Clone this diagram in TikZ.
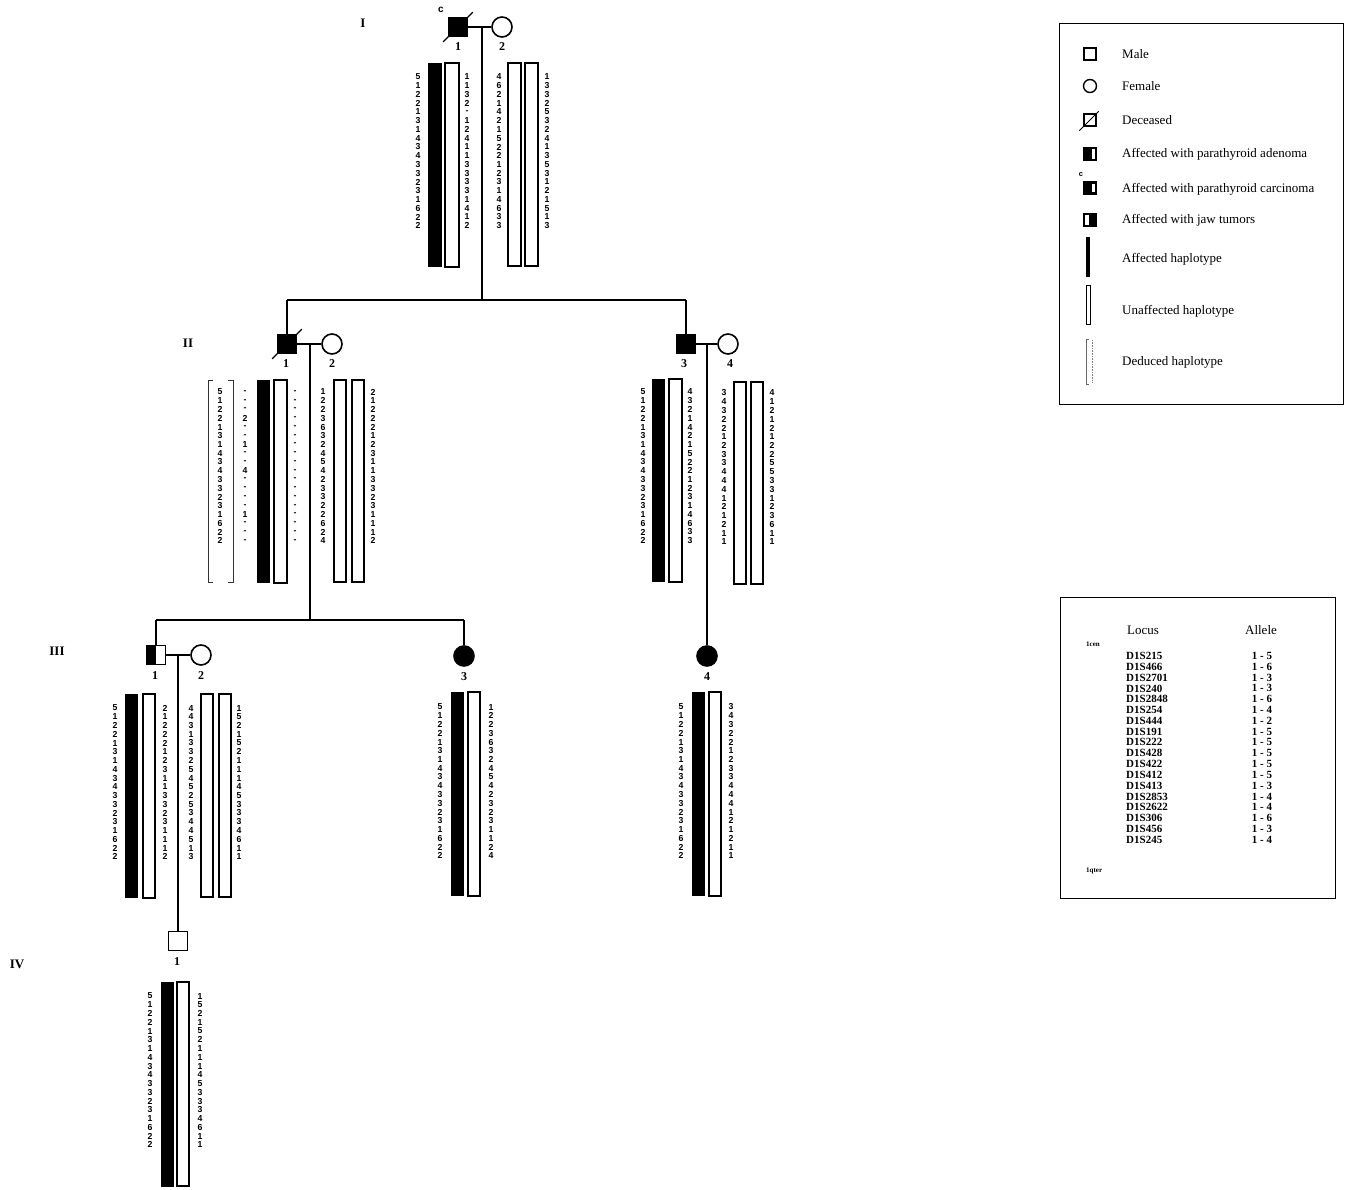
\documentclass[tikz,border=0pt]{standalone}
\usepackage{fontspec}
\setmainfont{Liberation Serif}
\newfontfamily\dgfont{Liberation Sans}
\usetikzlibrary{calc}
\tikzset{
  dg/.style={font=\dgfont\bfseries\fontsize{8.7}{9}\selectfont, inner sep=0pt},
  male/.style={draw, rectangle, line width=1.6pt, minimum size=19pt, inner sep=0pt},
  female/.style={draw, circle, line width=1.6pt, minimum size=20pt, inner sep=0pt},
  lnk/.style={line width=1.8pt},
  plbl/.style={font=\bfseries\fontsize{12}{12}\selectfont, inner sep=0pt},
  gen/.style={font=\bfseries\fontsize{13}{13}\selectfont, inner sep=0pt},
  hapU/.style={draw, line width=1.8pt, fill=white},
  slash/.style={line width=1.3pt},
  legtxt/.style={font=\fontsize{13}{13}\selectfont, anchor=west, inner sep=0pt},
  lmale/.style={draw, rectangle, line width=1.4pt, minimum size=12pt, inner sep=0pt},
  locus/.style={font=\bfseries\fontsize{11}{11}\selectfont, inner sep=0pt},
}
\newcommand\alcol[4]{\foreach \d [count=\i] in {#4}{\node[dg] (#1-\i) at (#2,{#3+(\i-1)*8.75}) {\d};}}
\begin{document}
\begin{tikzpicture}[x=1pt,y=-1pt]
\useasboundingbox[fill=white] (0,0) rectangle (1352,1189);

% generation labels
\node[gen] (gI) at (363,23) {I};
\node[gen] (gII) at (188,343) {II};
\node[gen] (gIII) at (57,651) {III};
\node[gen] (gIV) at (17,964) {IV};

% ---------- Generation I ----------
\node[male, fill=black] (I1) at (458,27) {};
\node[female] (I2) at (502,27) {};
\draw[slash] ($(I1.south west)!-0.22!(I1.north east)$) -- ($(I1.north east)!-0.22!(I1.south west)$);
\node[font=\dgfont\bfseries\fontsize{10}{10}\selectfont, inner sep=0pt] (I1c) at (441,10) {c};
\node[plbl] (I1l) at (458,47) {1};
\node[plbl] (I2l) at (502,47) {2};
\draw[lnk] (I1) -- (I2);
\coordinate (mI) at (482,27);
\coordinate (sI) at (482,300);
\coordinate (sIa) at (287,300);
\coordinate (sIb) at (686,300);
\draw[lnk] (mI) -- (sI);

\fill (428,63) rectangle (442,267);
\draw[hapU] (445,63) rectangle (459,267);
\draw[hapU] (508,63) rectangle (521,266);
\draw[hapU] (525,63) rectangle (538,266);
\alcol{a1}{418}{77}{5,1,2,2,1,3,1,4,3,4,3,3,2,3,1,6,2,2}
\alcol{a2}{467}{77}{1,1,3,2,-,1,2,4,1,1,3,3,3,3,1,4,1,2}
\alcol{a3}{499}{77}{4,6,2,1,4,2,1,5,2,2,1,2,3,1,4,6,3,3}
\alcol{a4}{547}{77}{1,3,3,2,5,3,2,4,1,3,5,3,1,2,1,5,1,3}

% ---------- Generation II ----------
\node[male, fill=black] (II1) at (287,344) {};
\node[female] (II2) at (332,344) {};
\draw[slash] ($(II1.south west)!-0.22!(II1.north east)$) -- ($(II1.north east)!-0.22!(II1.south west)$);
\node[male, fill=black] (II3) at (686,344) {};
\node[female] (II4) at (728,344) {};
\node[plbl] (II1l) at (286,364) {1};
\node[plbl] (II2l) at (332,364) {2};
\node[plbl] (II3l) at (684,364) {3};
\node[plbl] (II4l) at (730,364) {4};
\draw[lnk] (sIa) -- (sIb);
\draw[lnk] (sIa) -- (II1);
\draw[lnk] (sIb) -- (II3);
\draw[lnk] (II1) -- (II2);
\draw[lnk] (II3) -- (II4);
\coordinate (mII) at (310,344);
\coordinate (sII) at (310,620);
\coordinate (sIIa) at (156,620);
\coordinate (sIIb) at (464,620);
\coordinate (mIIb) at (707,344);
\draw[lnk] (mII) -- (sII);

% II-1 haplotypes
\draw[line width=1pt, black!80] (213,380) -- (208,380) -- (208,582) -- (213,582);
\draw[line width=1pt, black!80] (228,380) -- (233,380) -- (233,582) -- (228,582);
\alcol{b1}{220}{392}{5,1,2,2,1,3,1,4,3,4,3,3,2,3,1,6,2,2}
\alcol{b2}{245}{392}{-,-,-,2,-,-,1,-,-,4,-,-,-,-,1,-,-,-}
\fill (257,380) rectangle (270,583);
\draw[hapU] (274,380) rectangle (287,583);
\alcol{b3}{295}{392}{-,-,-,-,-,-,-,-,-,-,-,-,-,-,-,-,-,-}
\alcol{b4}{323}{392}{1,2,2,3,6,3,2,4,5,4,2,3,3,2,2,6,2,4}
\draw[hapU] (334,380) rectangle (346,582);
\draw[hapU] (352,380) rectangle (364,582);
\alcol{b5}{373}{392}{2,1,2,2,2,1,2,3,1,1,3,3,2,3,1,1,1,2}

% II-3 / II-4 haplotypes
\fill (652,379) rectangle (665,582);
\draw[hapU] (669,379) rectangle (682,582);
\alcol{c1}{643}{392}{5,1,2,2,1,3,1,4,3,4,3,3,2,3,1,6,2,2}
\alcol{c2}{690}{392}{4,3,2,1,4,2,1,5,2,2,1,2,3,1,4,6,3,3}
\draw[hapU] (734,382) rectangle (746,584);
\draw[hapU] (751,382) rectangle (763,584);
\alcol{c3}{724}{393}{3,4,3,2,2,1,2,3,3,4,4,4,1,2,1,2,1,1}
\alcol{c4}{772}{393}{4,1,2,1,2,1,2,2,5,5,3,3,1,2,3,6,1,1}

% ---------- Generation III ----------
\node[male] (III1) at (156,655) {};
\fill (III1.north west) rectangle (III1.south);
\node[male] at (156,655) {};
\node[female] (III2) at (201,655) {};
\node[female, fill=black] (III3) at (464,656) {};
\node[female, fill=black] (III4) at (707,656) {};
\node[plbl] (III1l) at (155,676) {1};
\node[plbl] (III2l) at (201,676) {2};
\node[plbl] (III3l) at (464,677) {3};
\node[plbl] (III4l) at (707,677) {4};
\draw[lnk] (sIIa) -- (sIIb);
\draw[lnk] (sIIa) -- (III1);
\draw[lnk] (sIIb) -- (III3);
\draw[lnk] (mIIb) -- (III4);
\draw[lnk] (III1) -- (III2);
\coordinate (mIII) at (178,655);

\fill (125,694) rectangle (138,898);
\draw[hapU] (143,694) rectangle (155,898);
\alcol{d1}{115}{708}{5,1,2,2,1,3,1,4,3,4,3,3,2,3,1,6,2,2}
\alcol{d2}{165}{708}{2,1,2,2,2,1,2,3,1,1,3,3,2,3,1,1,1,2}
\draw[hapU] (201,694) rectangle (213,897);
\draw[hapU] (219,694) rectangle (231,897);
\alcol{d3}{191}{708}{4,4,3,1,3,3,2,5,4,5,2,5,3,4,4,5,1,3}
\alcol{d4}{239}{708}{1,5,2,1,5,2,1,1,1,4,5,3,3,3,4,6,1,1}

\fill (451,692) rectangle (464,896);
\draw[hapU] (468,692) rectangle (480,896);
\alcol{e1}{440}{707}{5,1,2,2,1,3,1,4,3,4,3,3,2,3,1,6,2,2}
\alcol{e2}{491}{707}{1,2,2,3,6,3,2,4,5,4,2,3,2,3,1,1,2,4}

\fill (692,692) rectangle (705,896);
\draw[hapU] (709,692) rectangle (721,896);
\alcol{f1}{681}{707}{5,1,2,2,1,3,1,4,3,4,3,3,2,3,1,6,2,2}
\alcol{f2}{731}{707}{3,4,3,2,2,1,2,3,3,4,4,4,1,2,1,2,1,1}

% ---------- Generation IV ----------
\node[male] (IV1) at (178,941) {};
\node[plbl] (IV1l) at (177,962) {1};
\draw[lnk] (mIII) -- (IV1);
\fill (161,982) rectangle (174,1187);
\draw[hapU] (177,982) rectangle (189,1186);
\alcol{g1}{150}{996}{5,1,2,2,1,3,1,4,3,4,3,3,2,3,1,6,2,2}
\alcol{g2}{200}{996}{1,5,2,1,5,2,1,1,1,4,5,3,3,3,4,6,1,1}

% ---------- Legend 1 ----------
\draw[line width=1pt] (1059,23) rectangle (1343,404);
\node[lmale] (Lm) at (1090,54) {};
\node[legtxt] (Lmt) at (1122,54) {Male};
\node[draw, circle, line width=1.4pt, minimum size=13pt, inner sep=0pt] (Lf) at (1090,86) {};
\node[legtxt] (Lft) at (1122,86) {Female};
\node[lmale] (Ld) at (1090,120) {};
\draw[line width=1pt] ($(Ld.south west)!-0.3!(Ld.north east)$) -- ($(Ld.north east)!-0.15!(Ld.south west)$);
\node[legtxt] (Ldt) at (1122,120) {Deceased};
\node[lmale] (La) at (1090,154) {};
\fill ($(La.north west)$) rectangle ($(La.south)+(1.5,0)$);
\node[legtxt] (Lat) at (1122,154) {Affected with parathyroid adenoma};
\node[lmale, fill=black] (Lc) at (1090,188) {};
\fill[white] (1091.5,184) rectangle (1095,192);
\node[font=\dgfont\bfseries\fontsize{7.5}{7.5}\selectfont, inner sep=0pt] (Lcc) at (1081,175) {c};
\node[legtxt] (Lct) at (1122,189) {Affected with parathyroid carcinoma};
\node[lmale] (Lj) at (1090,220) {};
\fill ($(Lj.north)+(-1.5,0)$) rectangle (Lj.south east);
\node[legtxt] (Ljt) at (1122,220) {Affected with jaw tumors};
\fill (1086,237) rectangle (1090,277);
\node[legtxt] (Lht) at (1122,259) {Affected haplotype};
\draw[line width=1pt] (1086,285) rectangle (1090,324);
\node[legtxt] (Lut) at (1122,311) {Unaffected haplotype};
\draw[line width=0.7pt, black!60] (1089,339) -- (1086,339) -- (1086,384) -- (1089,384);
\draw[line width=0.6pt, black!50, densely dotted] (1092,340) -- (1092,383);
\node[legtxt] (Ldht) at (1122,362) {Deduced haplotype};

% ---------- Legend 2 ----------
\draw[line width=1pt] (1060,597) rectangle (1335,898);
\node[font=\fontsize{13}{13}\selectfont, inner sep=0pt] (Lloc) at (1143,630) {Locus};
\node[font=\fontsize{13}{13}\selectfont, inner sep=0pt] (Lall) at (1261,630) {Allele};
\node[font=\bfseries\fontsize{7}{7}\selectfont, anchor=west, inner sep=0pt] (Lcen) at (1086,644) {1cen};
\node[font=\bfseries\fontsize{7}{7}\selectfont, anchor=west, inner sep=0pt] (Lqter) at (1086,871) {1qter};
\foreach \l/\a [count=\i] in {D1S215/1 - 5, D1S466/1 - 6, D1S2701/1 - 3, D1S240/1 - 3, D1S2848/1 - 6, D1S254/1 - 4, D1S444/1 - 2, D1S191/1 - 5, D1S222/1 - 5, D1S428/1 - 5, D1S422/1 - 5, D1S412/1 - 5, D1S413/1 - 3, D1S2853/1 - 4, D1S2622/1 - 4, D1S306/1 - 6, D1S456/1 - 3, D1S245/1 - 4}{
  \node[locus, anchor=west] (loc-\i) at (1126,{656+(\i-1)*10.8}) {\l};
  \node[locus] (all-\i) at (1262,{656+(\i-1)*10.8}) {\a};
}
\end{tikzpicture}
\end{document}
